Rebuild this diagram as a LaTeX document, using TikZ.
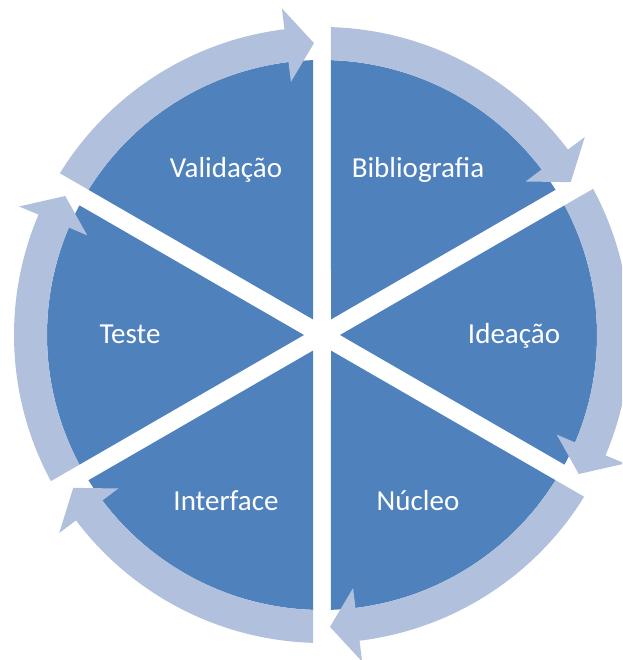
\documentclass[tikz,border=0pt]{standalone}
\usepackage{fontspec}
\setmainfont{Carlito}
\definecolor{SectorBlue}{RGB}{79,129,189}
\definecolor{RingBlue}{RGB}{177,193,221}

\begin{document}
\begin{tikzpicture}[x = 1pt, y = 1pt]
\tikzstyle{SectorStyle}=[fill = SectorBlue]
\tikzstyle{ArrowStyle}=[fill = RingBlue]
\tikzstyle{LabelStyle}=[text = white,
                        font = \fontsize{29}{34}\selectfont,
                        anchor = base,
                        inner sep = 0pt,
                        yshift = -9pt]
\clip (-322, -325) rectangle (300, 335);
\foreach \s in {90, 30, -30, -90, -150, -210}{
  \pgfmathsetmacro{\e}{\s - 60}
  \fill[SectorStyle] ({\s - 30}:18pt) -- ({\s - asin(9/275)}:275pt)
    arc[start angle = {\s - asin(9/275)}, end angle = {\e + asin(9/275)}, radius = 275pt] -- cycle;
}
\foreach \e in {90, 30, -30, -90, -150, 150}{
  \pgfmathsetmacro{\s}{\e + 60}
  \fill[ArrowStyle] ({\s - asin(9/308)}:308pt)
    arc[start angle = {\s - asin(9/308)}, end angle = {\e + 7}, radius = 308pt]
    -- ({\e + 7}:329pt) -- ({\e + asin(8/292)}:292pt) -- ({\e + 7}:255pt) -- ({\e + 7}:275pt)
    arc[start angle = {\e + 7}, end angle = {\s - asin(9/275)}, radius = 275pt] -- cycle;
}
\node[LabelStyle] (validacao) at (120:192pt) {Validação};
\node[LabelStyle] (bibliografia) at (60:192pt) {Bibliografia};
\node[LabelStyle] (ideacao) at (0:192pt) {Ideação};
\node[LabelStyle] (nucleo) at (-60:192pt) {Núcleo};
\node[LabelStyle] (interface) at (-120:192pt) {Interface};
\node[LabelStyle] (teste) at (180:192pt) {Teste};
\end{tikzpicture}
\end{document}
